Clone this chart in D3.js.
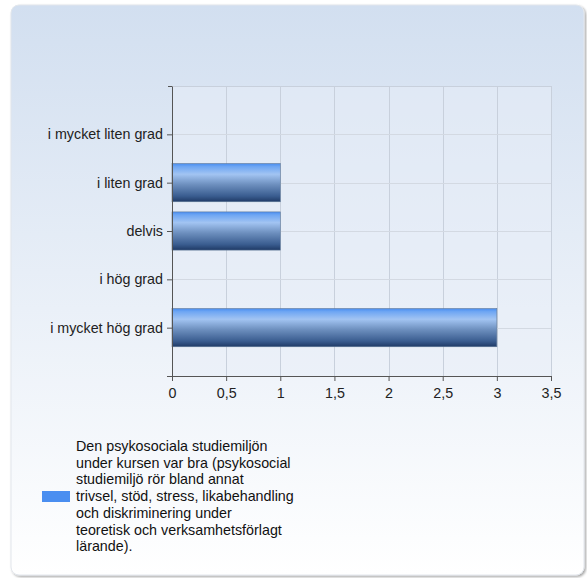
<!DOCTYPE html>
<html><head><meta charset="utf-8">
<script src="https://cdn.jsdelivr.net/npm/d3@7"></script>
<style>body{margin:0;background:#fff;}svg{display:block;font-family:"Liberation Sans",Arial,sans-serif;}</style>
</head><body>
<svg id="c" width="587" height="578"></svg>
<script>
const categories = ["i mycket liten grad","i liten grad","delvis","i hög grad","i mycket hög grad"];
const values = [0,1,1,0,3];
const xTicks = [0,0.5,1,1.5,2,2.5,3,3.5];
const xTickLabels = ["0","0,5","1","1,5","2","2,5","3","3,5"];
const legendLines = ["Den psykosociala studiemiljön","under kursen var bra (psykosocial","studiemiljö rör bland annat","trivsel, stöd, stress, likabehandling","och diskriminering under","teoretisk och verksamhetsförlagt","lärande)."];

const FS = 14.3;
const svg = d3.select("#c");
const defs = svg.append("defs");
const bg = defs.append("linearGradient").attr("id","bg").attr("x1",0).attr("y1",0).attr("x2",0).attr("y2",1);
bg.append("stop").attr("offset","0%").attr("stop-color","#d2dff0");
bg.append("stop").attr("offset","100%").attr("stop-color","#ffffff");
const bar = defs.append("linearGradient").attr("id","bar").attr("x1",0).attr("y1",0).attr("x2",0).attr("y2",1);
[["0%","#4a8ef0"],["8%","#6ea6f3"],["28%","#a2c4f2"],["55%","#6d8fbe"],["85%","#3a5d90"],["100%","#1f3a66"]]
  .forEach(([o,c])=>bar.append("stop").attr("offset",o).attr("stop-color",c));
const sh = defs.append("filter").attr("id","sh").attr("x","-5%").attr("y","-5%").attr("width","110%").attr("height","110%");
sh.append("feDropShadow").attr("dx",1.5).attr("dy",1.5).attr("stdDeviation",1.2).attr("flood-color","#000").attr("flood-opacity",0.35);

svg.append("rect").attr("x",11).attr("y",5).attr("width",573).attr("height",570).attr("rx",8)
  .attr("fill","url(#bg)").attr("stroke","#e2e6ec").attr("filter","url(#sh)");

const pL=172, pR=551, pT=86, pB=376;
const x = d3.scaleLinear().domain([0,3.5]).range([pL,pR]);
const y = d3.scalePoint().domain(categories).range([pT,pB]).padding(1);
const bh = y.step()*0.79;

svg.append("rect").attr("x",pL).attr("y",pT).attr("width",pR-pL).attr("height",pB-pT)
  .attr("fill","#e8eef7").attr("fill-opacity",0.5);

svg.append("g").selectAll("line").data(xTicks).join("line")
  .attr("x1",d=>Math.round(x(d))+0.5).attr("x2",d=>Math.round(x(d))+0.5).attr("y1",pT).attr("y2",pB)
  .attr("stroke","#c8d0dc").attr("stroke-width",1);
svg.append("line").attr("x1",pL).attr("x2",pR).attr("y1",pT+0.5).attr("y2",pT+0.5).attr("stroke","#c8d0dc");
svg.append("g").selectAll("line").data(categories).join("line")
  .attr("x1",pL).attr("x2",pR).attr("y1",d=>Math.round(y(d))+0.5).attr("y2",d=>Math.round(y(d))+0.5)
  .attr("stroke","#d3d9e2");

svg.append("g").selectAll("rect").data(categories.map((c,i)=>({c,v:values[i]})).filter(d=>d.v>0)).join("rect")
  .attr("x",x(0)).attr("y",d=>y(d.c)-bh/2).attr("width",d=>x(d.v)-x(0)).attr("height",bh)
  .attr("fill","url(#bar)").attr("stroke","#5f7898").attr("stroke-width",0.6);

const xa = svg.append("g").attr("transform",`translate(0,${pB})`)
  .call(d3.axisBottom(x).tickValues(xTicks).tickFormat((d,i)=>xTickLabels[i]).tickSize(5).tickSizeOuter(0));
xa.select(".domain").attr("stroke","#555");
xa.selectAll(".tick line").attr("stroke","#555");
xa.selectAll("text").attr("font-size",FS).attr("fill","#222").attr("dy","0.95em").attr("font-family","Liberation Sans, Arial, sans-serif");
svg.append("line").attr("x1",pL-5).attr("x2",pL).attr("y1",pB+0.5).attr("y2",pB+0.5).attr("stroke","#555");

const ya = svg.append("g").attr("transform",`translate(${pL},0)`)
  .call(d3.axisLeft(y).tickSize(5).tickSizeOuter(0).tickPadding(4));
ya.select(".domain").attr("stroke","#555");
ya.selectAll(".tick line").attr("stroke","#555");
ya.selectAll("text").attr("font-size",FS).attr("fill","#222").attr("font-family","Liberation Sans, Arial, sans-serif");
svg.append("line").attr("x1",pL-4).attr("x2",pL).attr("y1",pT+0.5).attr("y2",pT+0.5).attr("stroke","#555");

svg.append("rect").attr("x",42).attr("y",491).attr("width",28).attr("height",11).attr("fill","#4a8ef0");
svg.append("g").selectAll("text").data(legendLines).join("text")
  .attr("x",76).attr("y",(d,i)=>451+i*16.7).attr("font-size",FS).attr("fill","#111").text(d=>d);
</script>
</body></html>
